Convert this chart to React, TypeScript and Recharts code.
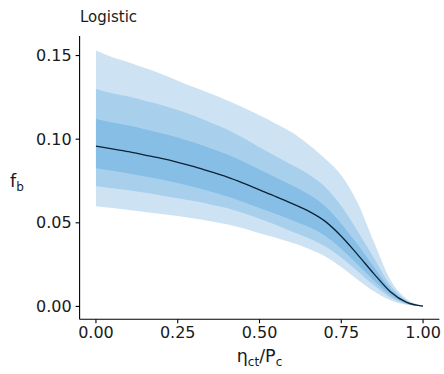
import { Area, ComposedChart, Line, XAxis, YAxis } from 'recharts'

// eta_ct / P_c grid
const ETA = [0, 0.05, 0.1, 0.15, 0.2, 0.25, 0.3, 0.35, 0.4, 0.45, 0.5, 0.55, 0.6, 0.65, 0.7, 0.75, 0.8, 0.85, 0.9, 0.95, 1]

// posterior median of f_b
const MEDIAN = [0.0958, 0.0942, 0.0925, 0.0905, 0.0885, 0.0862, 0.0836, 0.0806, 0.0774, 0.0737, 0.0697, 0.0657, 0.0615, 0.057, 0.051, 0.042, 0.031, 0.0195, 0.0088, 0.0024, 0.0002]

// credible bands, inner -> outer
const LOW_1 = [0.0826, 0.0811, 0.0795, 0.0777, 0.0759, 0.0738, 0.0714, 0.0687, 0.0659, 0.0625, 0.0588, 0.0553, 0.0516, 0.0476, 0.0423, 0.0345, 0.0251, 0.0155, 0.0068, 0.0018, 0.0001]
const HIGH_1 = [0.112, 0.11, 0.1082, 0.106, 0.1035, 0.101, 0.098, 0.0946, 0.091, 0.0866, 0.0818, 0.0771, 0.0723, 0.067, 0.06, 0.0495, 0.037, 0.0236, 0.0106, 0.0029, 0.0002]
const LOW_2 = [0.0719, 0.0707, 0.0694, 0.0679, 0.0664, 0.0647, 0.063, 0.061, 0.0588, 0.0558, 0.0524, 0.0488, 0.0446, 0.0408, 0.036, 0.0292, 0.021, 0.0126, 0.0054, 0.0014, 0.0001]
const HIGH_2 = [0.13, 0.1275, 0.1255, 0.123, 0.1205, 0.1175, 0.114, 0.11, 0.106, 0.1008, 0.0952, 0.0898, 0.0845, 0.079, 0.0715, 0.06, 0.045, 0.029, 0.0128, 0.0034, 0.0003]
const LOW_3 = [0.0599, 0.0588, 0.0577, 0.0565, 0.0553, 0.054, 0.0525, 0.051, 0.0492, 0.0467, 0.0438, 0.041, 0.038, 0.0345, 0.03, 0.0235, 0.016, 0.009, 0.0037, 0.001, 0.0001]
const HIGH_3 = [0.153, 0.149, 0.146, 0.1425, 0.139, 0.135, 0.131, 0.1273, 0.1233, 0.119, 0.1143, 0.1093, 0.104, 0.0968, 0.0885, 0.0785, 0.062, 0.0385, 0.016, 0.0045, 0.0004]

const X_TICKS = [0, 0.25, 0.5, 0.75, 1]
const Y_TICKS = [0, 0.05, 0.1, 0.15]

const BAND_COLOURS = ['#86bee6', '#a8d0ed', '#cde3f3']
const LINE_COLOUR = '#0d2236'
const TEXT_COLOUR = '#1a1a1a'
const FONT = '"DejaVu Sans", sans-serif'

const data = ETA.map((x, i) => ({
  x,
  median: MEDIAN[i],
  band1: [LOW_1[i], HIGH_1[i]],
  band2: [LOW_2[i], HIGH_2[i]],
  band3: [LOW_3[i], HIGH_3[i]],
}))

function XTitle({ viewBox }: any) {
  const cx = viewBox.x + viewBox.width / 2
  return (
    <text x={cx} y={viewBox.y + 43} textAnchor="middle" fontFamily={FONT} fontSize={17.5} fill={TEXT_COLOUR}>
      η
      <tspan fontSize={12} dy={4}>ct</tspan>
      <tspan dy={-4}>/P</tspan>
      <tspan fontSize={12} dy={4}>c</tspan>
    </text>
  )
}

// panel title + y axis title
function YTitle() {
  return (
    <g fontFamily={FONT} fill={TEXT_COLOUR}>
      <text x={80} y={22} fontSize={15}>Logistic</text>
      <text x={10} y={187} fontSize={17.5}>
        f<tspan fontSize={12} dy={4}>b</tspan>
      </text>
    </g>
  )
}

export default function App() {
  const tick = { fill: TEXT_COLOUR, fontSize: 16, fontFamily: FONT }
  return (
    <div style={{ position: 'absolute', left: 0, top: 0, background: '#fff' }}>
      <ComposedChart width={444} height={374} data={data} margin={{ top: 36, right: 4.6, bottom: 0, left: 0 }}>
        <XAxis
          type="number"
          dataKey="x"
          domain={[-0.05, 1.05]}
          ticks={X_TICKS}
          tickFormatter={(v: number) => v.toFixed(2)}
          height={54.7}
          tickSize={4}
          tickMargin={3}
          tick={tick}
          stroke="#000"
          strokeWidth={1.1}
          allowDataOverflow
          label={<XTitle />}
        />
        <YAxis
          type="number"
          domain={[-0.0077, 0.1617]}
          ticks={Y_TICKS}
          tickFormatter={(v: number) => v.toFixed(2)}
          width={79.6}
          tickSize={4}
          tickMargin={4}
          tick={tick}
          stroke="#000"
          strokeWidth={1.1}
          allowDataOverflow
          label={<YTitle />}
        />
        <Area dataKey="band3" type="monotone" fill={BAND_COLOURS[2]} fillOpacity={1} stroke="none" isAnimationActive={false} />
        <Area dataKey="band2" type="monotone" fill={BAND_COLOURS[1]} fillOpacity={1} stroke="none" isAnimationActive={false} />
        <Area dataKey="band1" type="monotone" fill={BAND_COLOURS[0]} fillOpacity={1} stroke="none" isAnimationActive={false} />
        <Line dataKey="median" type="monotone" stroke={LINE_COLOUR} strokeWidth={1.3} dot={false} isAnimationActive={false} />
      </ComposedChart>
    </div>
  )
}
